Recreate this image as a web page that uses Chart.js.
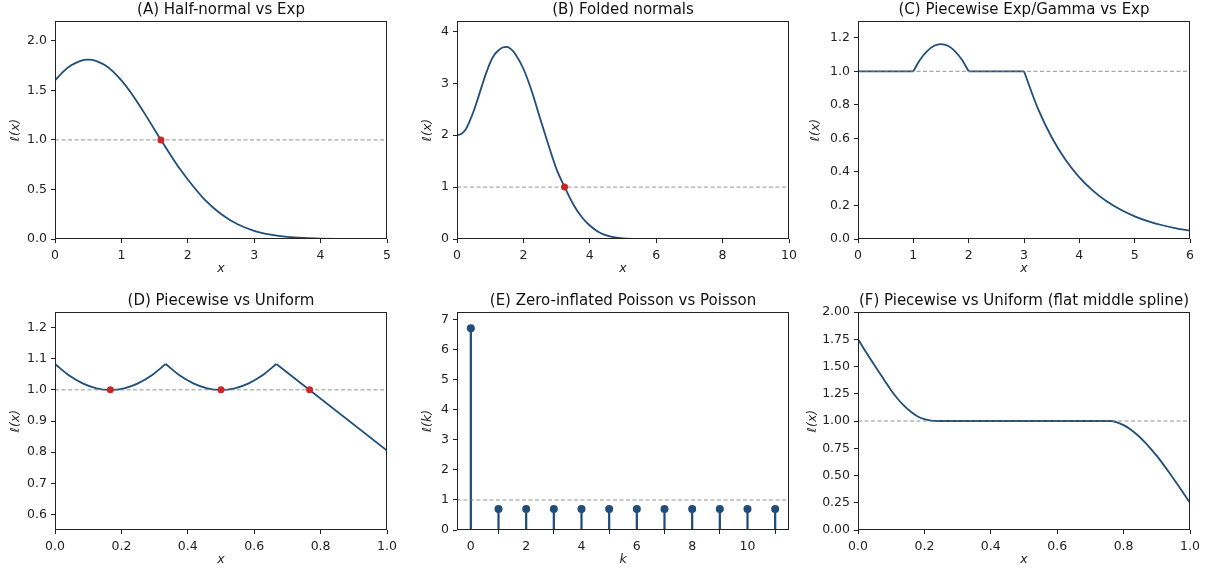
<!DOCTYPE html>
<html>
<head>
<meta charset="utf-8">
<script src="https://cdn.jsdelivr.net/npm/chart.js@4.4.1/dist/chart.umd.min.js"></script>
<style>
  body { margin: 0; background: #fff; }
  #wrap { position: relative; width: 1219px; height: 573px; overflow: hidden; }
  #wrap canvas { position: absolute; }
</style>
</head>
<body>
<div id="wrap">
  <canvas id="chartA"></canvas>
  <canvas id="chartB"></canvas>
  <canvas id="chartC"></canvas>
  <canvas id="chartD"></canvas>
  <canvas id="chartE"></canvas>
  <canvas id="chartF"></canvas>
</div>
<script>
// (A) Half-normal vs Exp
const aX = [0, 0.125, 0.25, 0.375, 0.5, 0.625, 0.75, 0.875, 1, 1.125, 1.25, 1.375, 1.5, 1.625, 1.75, 1.875, 2, 2.25, 2.5, 2.75, 3, 3.25, 3.5, 3.75, 4, 4.25, 4.5, 4.75, 5];
const aY = [1.60, 1.689, 1.755, 1.796, 1.81, 1.796, 1.755, 1.689, 1.60, 1.493, 1.37, 1.24, 1.103, 0.968, 0.838, 0.713, 0.60, 0.40, 0.253, 0.149, 0.083, 0.044, 0.021, 0.0099, 0.0043, 0.0018, 0.0007, 0.0003, 0.0001];
const aDotX = [1.595];
const aDotY = [1];
const aXTicks = [0, 1, 2, 3, 4, 5];
const aYTicks = [0, 0.5, 1, 1.5, 2];

// (B) Folded normals
const bX = [0, 0.125, 0.25, 0.375, 0.5, 0.625, 0.75, 0.875, 1, 1.125, 1.25, 1.375, 1.5, 1.625, 1.75, 2, 2.25, 2.5, 2.75, 3, 3.25, 3.5, 3.75, 4, 4.25, 4.5, 4.75, 5, 5.5, 6, 7, 8, 9, 10];
const bY = [2.00, 2.025, 2.10, 2.26, 2.46, 2.70, 2.95, 3.19, 3.40, 3.55, 3.635, 3.69, 3.70, 3.658, 3.57, 3.28, 2.85, 2.33, 1.82, 1.34, 0.99, 0.67, 0.43, 0.26, 0.14, 0.068, 0.031, 0.013, 0.002, 0.0003, 0, 0, 0, 0];
const bDotX = [3.24];
const bDotY = [1];
const bXTicks = [0, 2, 4, 6, 8, 10];
const bYTicks = [0, 1, 2, 3, 4];

// (C) Piecewise Exp/Gamma vs Exp
const cFlat1X = [0, 1];
const cFlat1Y = [1, 1];
const cBumpX = [1, 1.125, 1.25, 1.375, 1.5, 1.625, 1.75, 1.875, 2];
const cBumpY = [1, 1.07, 1.12, 1.152, 1.162, 1.152, 1.12, 1.07, 1];
const cFlat2X = [2, 3];
const cFlat2Y = [1, 1];
const cTailX = [3, 3.25, 3.5, 3.75, 4, 4.25, 4.5, 4.75, 5, 5.25, 5.5, 5.75, 6];
const cTailY = [1, 0.779, 0.607, 0.472, 0.368, 0.287, 0.223, 0.174, 0.135, 0.105, 0.082, 0.064, 0.05];
const cXTicks = [0, 1, 2, 3, 4, 5, 6];
const cYTicks = [0, 0.2, 0.4, 0.6, 0.8, 1.0, 1.2];

// (D) Piecewise vs Uniform
const dArc1X = [0, 0.0417, 0.0833, 0.125, 0.1667, 0.2083, 0.25, 0.2917, 0.3333];
const dArc2X = [0.3333, 0.375, 0.4167, 0.4583, 0.5, 0.5417, 0.5833, 0.625, 0.6667];
const dArcY = [1.083, 1.047, 1.021, 1.005, 1.0, 1.005, 1.021, 1.047, 1.083];
const dLineX = [0.6667, 1.0];
const dLineY = [1.083, 0.805];
const dDotX = [0.1667, 0.5, 0.767];
const dDotY = [1, 1, 1];
const dXTicks = [0, 0.2, 0.4, 0.6, 0.8, 1.0];
const dYTicks = [0.6, 0.7, 0.8, 0.9, 1.0, 1.1, 1.2];

// (E) Zero-inflated Poisson vs Poisson
const eK = [0, 1, 2, 3, 4, 5, 6, 7, 8, 9, 10, 11];
const eY = [6.72, 0.7, 0.7, 0.7, 0.7, 0.7, 0.7, 0.7, 0.7, 0.7, 0.7, 0.7];
const eXTicks = [0, 2, 4, 6, 8, 10];
const eYTicks = [0, 1, 2, 3, 4, 5, 6, 7];

// (F) Piecewise vs Uniform (flat middle spline)
const fX = [0, 0.02, 0.04, 0.06, 0.08, 0.10, 0.12, 0.14, 0.16, 0.18, 0.20, 0.22, 0.24, 0.5, 0.76, 0.78, 0.80, 0.82, 0.84, 0.86, 0.88, 0.90, 0.92, 0.94, 0.96, 0.98, 1.0];
const fY = [1.75, 1.652, 1.557, 1.464, 1.372, 1.28, 1.202, 1.136, 1.082, 1.042, 1.017, 1.004, 1.0, 1.0, 1.0, 0.988, 0.962, 0.924, 0.876, 0.818, 0.752, 0.680, 0.600, 0.516, 0.428, 0.339, 0.25];
const fXTicks = [0, 0.2, 0.4, 0.6, 0.8, 1.0];
const fYTicks = [0, 0.25, 0.5, 0.75, 1.0, 1.25, 1.5, 1.75, 2.0];

const LINE = '#1f4e79';
const DOT = '#c62828';
const INK = '#222';
const PAD_R = 16;

Chart.defaults.font.family = "'DejaVu Sans', sans-serif";
Chart.defaults.color = INK;

function pts(xs, ys) {
    return xs.map((x, i) => ({ x: x, y: ys[i] }));
}

function curve(xs, ys) {
    return {
        type: 'line', data: pts(xs, ys), borderColor: LINE, borderWidth: 1.8,
        pointRadius: 0, cubicInterpolationMode: 'monotone', order: 2
    };
}

function refLine(x0, x1) {
    return {
        type: 'line', data: [{ x: x0, y: 1 }, { x: x1, y: 1 }],
        borderColor: 'rgba(120,120,120,0.8)', borderWidth: 1, borderDash: [4, 2.5],
        pointRadius: 0, order: 1
    };
}

function dots(xs, ys, color, r) {
    return {
        type: 'scatter', data: pts(xs, ys), pointRadius: r, backgroundColor: color,
        borderWidth: 0, order: 0
    };
}

// full box round the plot area, like matplotlib spines
const boxPlugin = {
    id: 'box',
    afterDatasetsDraw(chart) {
        const { ctx, chartArea: a } = chart;
        ctx.save();
        ctx.strokeStyle = INK;
        ctx.lineWidth = 1;
        ctx.strokeRect(Math.round(a.left) + 0.5, Math.round(a.top) + 0.5,
            Math.round(a.right - a.left) - 1, Math.round(a.bottom - a.top) - 1);
        ctx.restore();
    }
};

function axis(min, max, ticks, dec, label, pad, fit) {
    return {
        type: 'linear', min: min, max: max, offset: false,
        afterBuildTicks: s => { s.ticks = ticks.map(v => ({ value: v })); },
        afterFit: fit,
        grid: { drawOnChartArea: false, tickLength: 4, tickColor: INK, tickWidth: 1 },
        border: { display: false },
        ticks: {
            autoSkip: false, maxRotation: 0, padding: pad, color: INK,
            font: { size: 12.5 }, callback: v => v.toFixed(dec)
        },
        title: { display: true, text: label, color: INK, font: { size: 12.5, style: 'italic' }, padding: 0 }
    };
}

function panel(id, left, top, p) {
    const cv = document.getElementById(id);
    cv.width = p.yw + 332 + PAD_R;
    cv.height = 21 + 218 + 37;
    cv.style.left = left + 'px';
    cv.style.top = top + 'px';

    new Chart(cv, {
        type: p.type || 'line',
        data: { datasets: p.datasets },
        options: {
            responsive: false,
            animation: false,
            events: [],
            layout: { padding: { left: 0, right: PAD_R, top: 0, bottom: 0 } },
            plugins: {
                legend: { display: false },
                tooltip: { enabled: false },
                title: {
                    display: true, text: p.title, fullSize: false, color: '#111',
                    font: { size: 15, weight: 'normal', lineHeight: 1.2 }, padding: { top: 1.5, bottom: 1.5 }
                }
            },
            scales: {
                x: axis(p.x[0], p.x[1], p.xt, p.xd, p.xl, 5.5, s => { s.height = 37; }),
                y: axis(p.y[0], p.y[1], p.yt, p.yd, p.yl, 4, s => { s.width = p.yw; })
            }
        },
        plugins: [boxPlugin]
    });
}

document.addEventListener('DOMContentLoaded', function () {

    panel('chartA', 8, 0, {
        title: '(A) Half-normal vs Exp', yw: 47,
        x: [0, 5], xt: aXTicks, xd: 0, xl: 'x',
        y: [0, 2.2], yt: aYTicks, yd: 1, yl: 'ℓ(x)',
        datasets: [dots(aDotX, aDotY, DOT, 3.5), refLine(0, 5), curve(aX, aY)]
    });

    panel('chartB', 420, 0, {
        title: '(B) Folded normals', yw: 37,
        x: [0, 10], xt: bXTicks, xd: 0, xl: 'x',
        y: [0, 4.2], yt: bYTicks, yd: 0, yl: 'ℓ(x)',
        datasets: [dots(bDotX, bDotY, DOT, 3.5), refLine(0, 10), curve(bX, bY)]
    });

    panel('chartC', 808, 0, {
        title: '(C) Piecewise Exp/Gamma vs Exp', yw: 50,
        x: [0, 6], xt: cXTicks, xd: 0, xl: 'x',
        y: [0, 1.3], yt: cYTicks, yd: 1, yl: 'ℓ(x)',
        datasets: [refLine(0, 6), curve(cFlat1X, cFlat1Y), curve(cBumpX, cBumpY),
            curve(cFlat2X, cFlat2Y), curve(cTailX, cTailY)]
    });

    panel('chartD', 8, 291, {
        title: '(D) Piecewise vs Uniform', yw: 47,
        x: [0, 1], xt: dXTicks, xd: 1, xl: 'x',
        y: [0.55, 1.25], yt: dYTicks, yd: 1, yl: 'ℓ(x)',
        datasets: [dots(dDotX, dDotY, DOT, 3.5), refLine(0, 1), curve(dArc1X, dArcY),
            curve(dArc2X, dArcY), curve(dLineX, dLineY)]
    });

    panel('chartE', 420, 291, {
        title: '(E) Zero-inflated Poisson vs Poisson', yw: 37, type: 'bar',
        x: [-0.5, 11.5], xt: eXTicks, xd: 0, xl: 'k',
        y: [0, 7.26], yt: eYTicks, yd: 0, yl: 'ℓ(k)',
        datasets: [
            dots(eK, eY, LINE, 4),
            refLine(-0.5, 11.5),
            { type: 'bar', data: pts(eK, eY), backgroundColor: LINE, barThickness: 1.6, order: 2 }
        ]
    });

    panel('chartF', 805, 291, {
        title: '(F) Piecewise vs Uniform (flat middle spline)', yw: 53,
        x: [0, 1], xt: fXTicks, xd: 1, xl: 'x',
        y: [0, 2], yt: fYTicks, yd: 2, yl: 'ℓ(x)',
        datasets: [refLine(0, 1), curve(fX, fY)]
    });

});
</script>
</body>
</html>
